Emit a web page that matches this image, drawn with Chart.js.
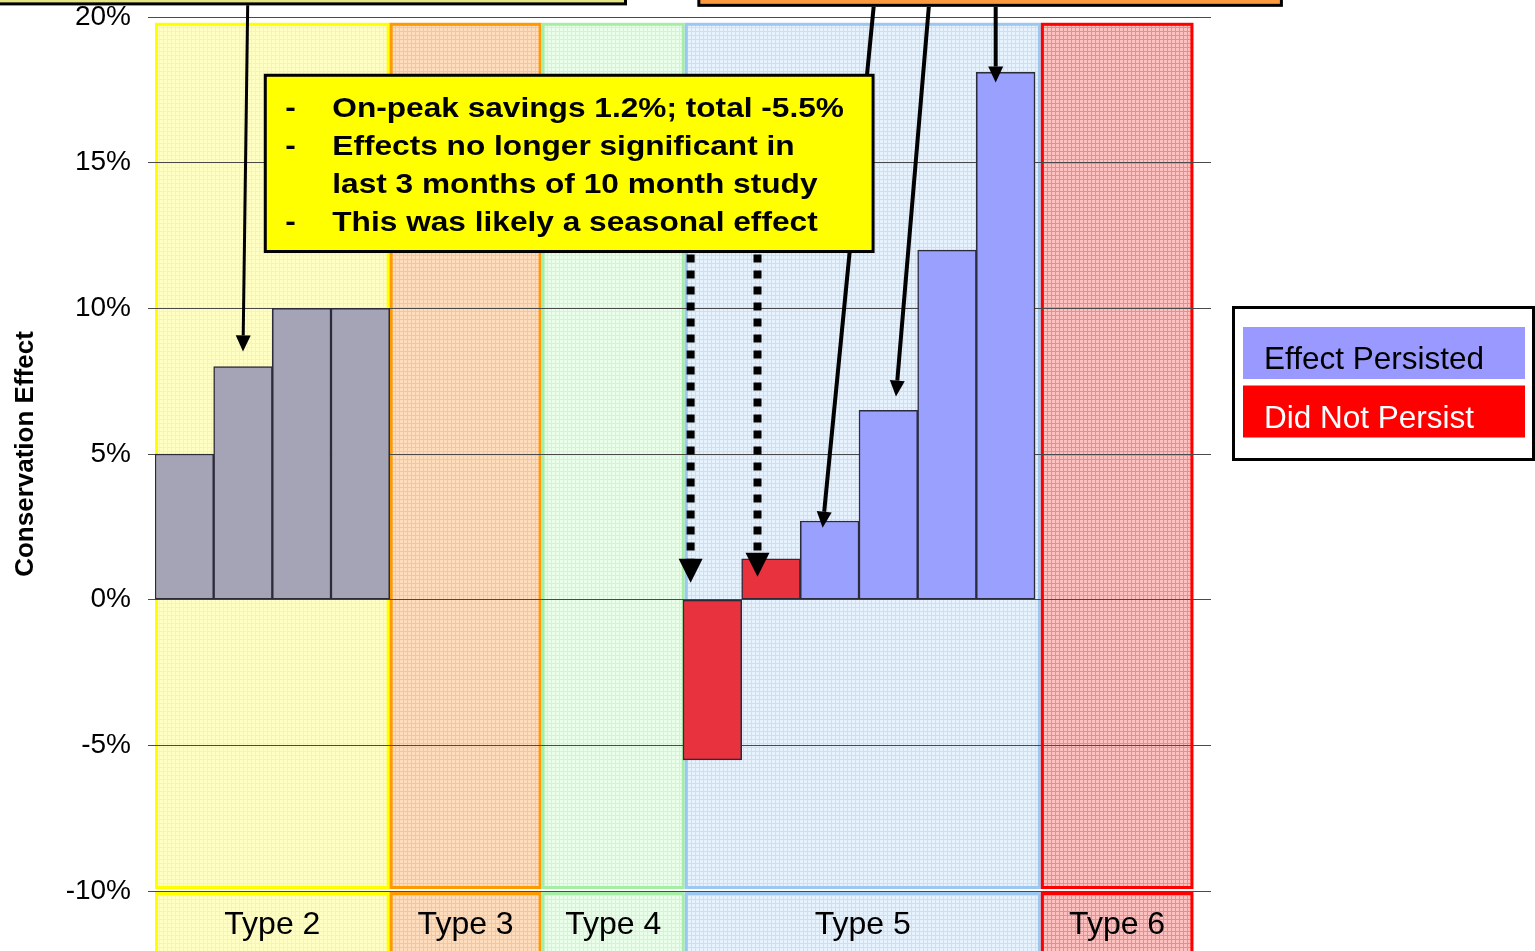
<!DOCTYPE html>
<html><head><meta charset="utf-8">
<script src="https://cdn.jsdelivr.net/npm/chart.js@4"></script>
<style>html,body{margin:0;padding:0;background:#fff;overflow:hidden}#wrap{width:1535px;height:951px;position:relative}</style>
</head><body><div id="wrap"><canvas id="c"></canvas></div>
<script>
// ---- data ----
const typeLabels = ['Type 2', 'Type 3', 'Type 4', 'Type 5', 'Type 6'];
const typeStart = [0, 4, 6.59, 9.03, 15.1];
const typeEnd = [4, 6.59, 9.03, 15.1, 17.7];

const type2X = [0.5, 1.5, 2.5, 3.5];
const type2Values = [5, 8, 10, 10];
const notPersistX = [9.5, 10.5];
const notPersistValues = [-5.5, 1.4];
const persistedX = [11.5, 12.5, 13.5, 14.5];
const persistedValues = [2.7, 6.5, 12, 18.1];

const yMin = -10, yMax = 20, yStep = 5;
const legendLabels = ['Effect Persisted', 'Did Not Persist'];
const noteLines = ['On-peak savings 1.2%; total -5.5%', 'Effects no longer significant in', 'last 3 months of 10 month study', 'This was likely a seasonal effect'];
const noteBullets = ['-', '-', '', '-'];

// ---- styles ----
const FONT = "'Liberation Sans', Arial, Helvetica, sans-serif";
const regionStyles = [
  {base: '#ffffc4', line: '#f8f89c', border: '#ffff00'},
  {base: '#ffdcbc', line: '#fac494', border: '#ff9900'},
  {base: '#eaffea', line: '#d0f6d0', border: '#a6eea6'},
  {base: '#e7f2ff', line: '#cae0fa', border: '#9cc8f0'},
  {base: '#ffc0c0', line: '#ff8484', border: '#ff0000'}
];

function makePattern(ctx, base, line) {
  const c = document.createElement('canvas');
  c.width = 4; c.height = 4;
  const g = c.getContext('2d');
  g.fillStyle = base; g.fillRect(0, 0, 4, 4);
  g.fillStyle = line; g.fillRect(0, 3, 4, 1); g.fillRect(3, 0, 1, 4);
  return ctx.createPattern(c, 'repeat');
}

function arrow(ctx, x0, y0, x1, y1, lw, headLen, headW, dash) {
  const a = Math.atan2(y1 - y0, x1 - x0);
  const bx = x1 - headLen * Math.cos(a), by = y1 - headLen * Math.sin(a);
  ctx.save();
  ctx.strokeStyle = '#000'; ctx.fillStyle = '#000';
  ctx.lineWidth = lw; ctx.lineCap = 'butt';
  ctx.setLineDash(dash || []);
  ctx.beginPath(); ctx.moveTo(x0, y0); ctx.lineTo(bx, by); ctx.stroke();
  ctx.setLineDash([]);
  const nx = -Math.sin(a), ny = Math.cos(a);
  ctx.beginPath();
  ctx.moveTo(x1, y1);
  ctx.lineTo(bx + nx * headW / 2, by + ny * headW / 2);
  ctx.lineTo(bx - nx * headW / 2, by - ny * headW / 2);
  ctx.closePath(); ctx.fill();
  ctx.restore();
}

const regionsPlugin = {
  id: 'regions',
  beforeDraw(chart) {
    const {ctx, scales: {x, y}} = chart;
    const top = y.getPixelForValue(19.8);
    const bottom = y.getPixelForValue(yMin) - 2;
    const lbTop = y.getPixelForValue(yMin) + 1;
    const lbBottom = chart.height + 10;
    ctx.save();
    typeLabels.forEach((lab, i) => {
      const st = regionStyles[i];
      const pat = makePattern(ctx, st.base, st.line);
      const x0 = x.getPixelForValue(typeStart[i]);
      const x1 = x.getPixelForValue(typeEnd[i]);
      ctx.fillStyle = pat;
      ctx.fillRect(x0, top, x1 - x0, bottom - top);
      ctx.fillRect(x0, lbTop, x1 - x0, lbBottom - lbTop);
      ctx.strokeStyle = st.border; ctx.lineWidth = 3;
      ctx.strokeRect(x0 + 1.5, top + 1.5, x1 - x0 - 3, bottom - top - 3);
      ctx.strokeRect(x0 + 1.5, lbTop + 1.5, x1 - x0 - 3, lbBottom - lbTop);
      ctx.fillStyle = '#000';
      ctx.font = '32px ' + FONT;
      ctx.textAlign = 'center'; ctx.textBaseline = 'alphabetic';
      ctx.fillText(lab, (x0 + x1) / 2, lbTop + 42);
    });
    ctx.restore();
  }
};

const notesPlugin = {
  id: 'notes',
  afterDraw(chart) {
    const {ctx, scales: {x, y}, chartArea} = chart;
    const px = v => x.getPixelForValue(v), py = v => y.getPixelForValue(v);
    ctx.save();
    // top-left callout box (cut off at the top)
    ctx.fillStyle = '#e3e682'; ctx.strokeStyle = '#000'; ctx.lineWidth = 3;
    ctx.fillRect(-10, -40, px(8.02) + 10, py(20.45) + 40);
    ctx.strokeRect(-10, -40, px(8.02) + 10, py(20.45) + 40);
    // top-right callout box (cut off at the top)
    ctx.fillStyle = '#fb9a3c';
    ctx.fillRect(px(9.27), -40, px(19.2) - px(9.27), py(20.4) + 40);
    ctx.strokeRect(px(9.27), -40, px(19.2) - px(9.27), py(20.4) + 40);
    ctx.restore();

    // arrows from callouts
    arrow(ctx, px(1.58), py(20.4), px(1.5), py(8.52), 3, 16, 15);
    arrow(ctx, px(12.25), py(20.35), px(11.38), py(2.47), 4, 16, 15);
    arrow(ctx, px(13.19), py(20.35), px(12.63), py(6.97), 4, 16, 15);
    arrow(ctx, px(14.33), py(20.35), px(14.33), py(17.75), 4, 16, 15);

    // yellow note box
    const bx0 = px(1.88), bx1 = px(12.24), by0 = py(18.0), by1 = py(11.95);
    // dotted arrows from note box
    arrow(ctx, px(9.13), by1 + 3, px(9.13), py(0.58), 8, 24, 24, [8, 8]);
    arrow(ctx, px(10.27), by1 + 3, px(10.27), py(0.79), 8, 24, 24, [8, 8]);
    ctx.save();
    ctx.fillStyle = '#ffff00'; ctx.strokeStyle = '#000'; ctx.lineWidth = 3;
    ctx.fillRect(bx0, by0, bx1 - bx0, by1 - by0);
    ctx.strokeRect(bx0, by0, bx1 - bx0, by1 - by0);
    ctx.fillStyle = '#000';
    ctx.font = 'bold 28px ' + FONT;
    ctx.textAlign = 'left'; ctx.textBaseline = 'alphabetic';
    noteLines.forEach((t, i) => {
      const yy = by0 + 42 + i * 38;
      ctx.save(); ctx.translate(bx0 + 20, yy); ctx.scale(1.13, 1);
      ctx.fillText(noteBullets[i], 0, 0); ctx.restore();
      ctx.save(); ctx.translate(bx0 + 67, yy); ctx.scale(1.13, 1);
      ctx.fillText(t, 0, 0); ctx.restore();
    });
    ctx.restore();

    // legend
    ctx.save();
    const lx = chartArea.right + 21, ly = 306;
    ctx.fillStyle = '#fff'; ctx.fillRect(lx, ly, 305, 155);
    ctx.strokeStyle = '#000'; ctx.lineWidth = 3;
    ctx.strokeRect(lx + 1.5, ly + 1.5, 300, 152);
    const sw = [{bg: '#9999ff', fg: '#000'}, {bg: '#ff0000', fg: '#fff'}];
    legendLabels.forEach((lab, i) => {
      const ry = ly + 21 + i * 58.5;
      ctx.fillStyle = sw[i].bg; ctx.fillRect(lx + 11, ry, 282, 52);
      ctx.fillStyle = sw[i].fg; ctx.font = '31.5px ' + FONT;
      ctx.textAlign = 'left'; ctx.textBaseline = 'alphabetic';
      ctx.fillText(lab, lx + 32, ry + 42);
    });
    ctx.restore();
  }
};

const toPts = (xs, vs) => xs.map((v, i) => ({x: v, y: vs[i]}));
const barCommon = {barPercentage: 1, categoryPercentage: 1, grouped: false, borderWidth: 1.5, borderColor: '#2b2b3a', borderSkipped: false};

new Chart(document.getElementById('c'), {
  type: 'bar',
  data: {
    datasets: [
      Object.assign({label: 'Type 2', data: toPts(type2X, type2Values), backgroundColor: '#a4a4b6'}, barCommon),
      Object.assign({label: legendLabels[0], data: toPts(persistedX, persistedValues), backgroundColor: '#9aa0fd'}, barCommon),
      Object.assign({label: legendLabels[1], data: toPts(notPersistX, notPersistValues), backgroundColor: '#e8323e'}, barCommon)
    ]
  },
  options: {
    responsive: true, maintainAspectRatio: false, animation: false,
    layout: {padding: {left: 0, right: 324, top: 17, bottom: 60}},
    plugins: {legend: {display: false}, tooltip: {enabled: false}},
    scales: {
      x: {type: 'linear', display: false, min: 0, max: 18, offset: false, ticks: {stepSize: 1}},
      y: {
        min: yMin, max: yMax,
        ticks: {stepSize: yStep, color: '#000', font: {family: FONT, size: 28}, padding: 17, callback: v => v + '%'},
        grid: {color: '#4a4a4a', lineWidth: 1, tickLength: 7, drawTicks: true},
        border: {display: false},
        title: {display: true, text: 'Conservation Effect', color: '#000', font: {family: FONT, size: 26, weight: 'bold'}, padding: {top: 10, bottom: 0}},
        afterFit: s => { s.width = 155; s.paddingTop = 0; s.paddingBottom = 0; }
      }
    }
  },
  plugins: [regionsPlugin, notesPlugin]
});
</script></body></html>
